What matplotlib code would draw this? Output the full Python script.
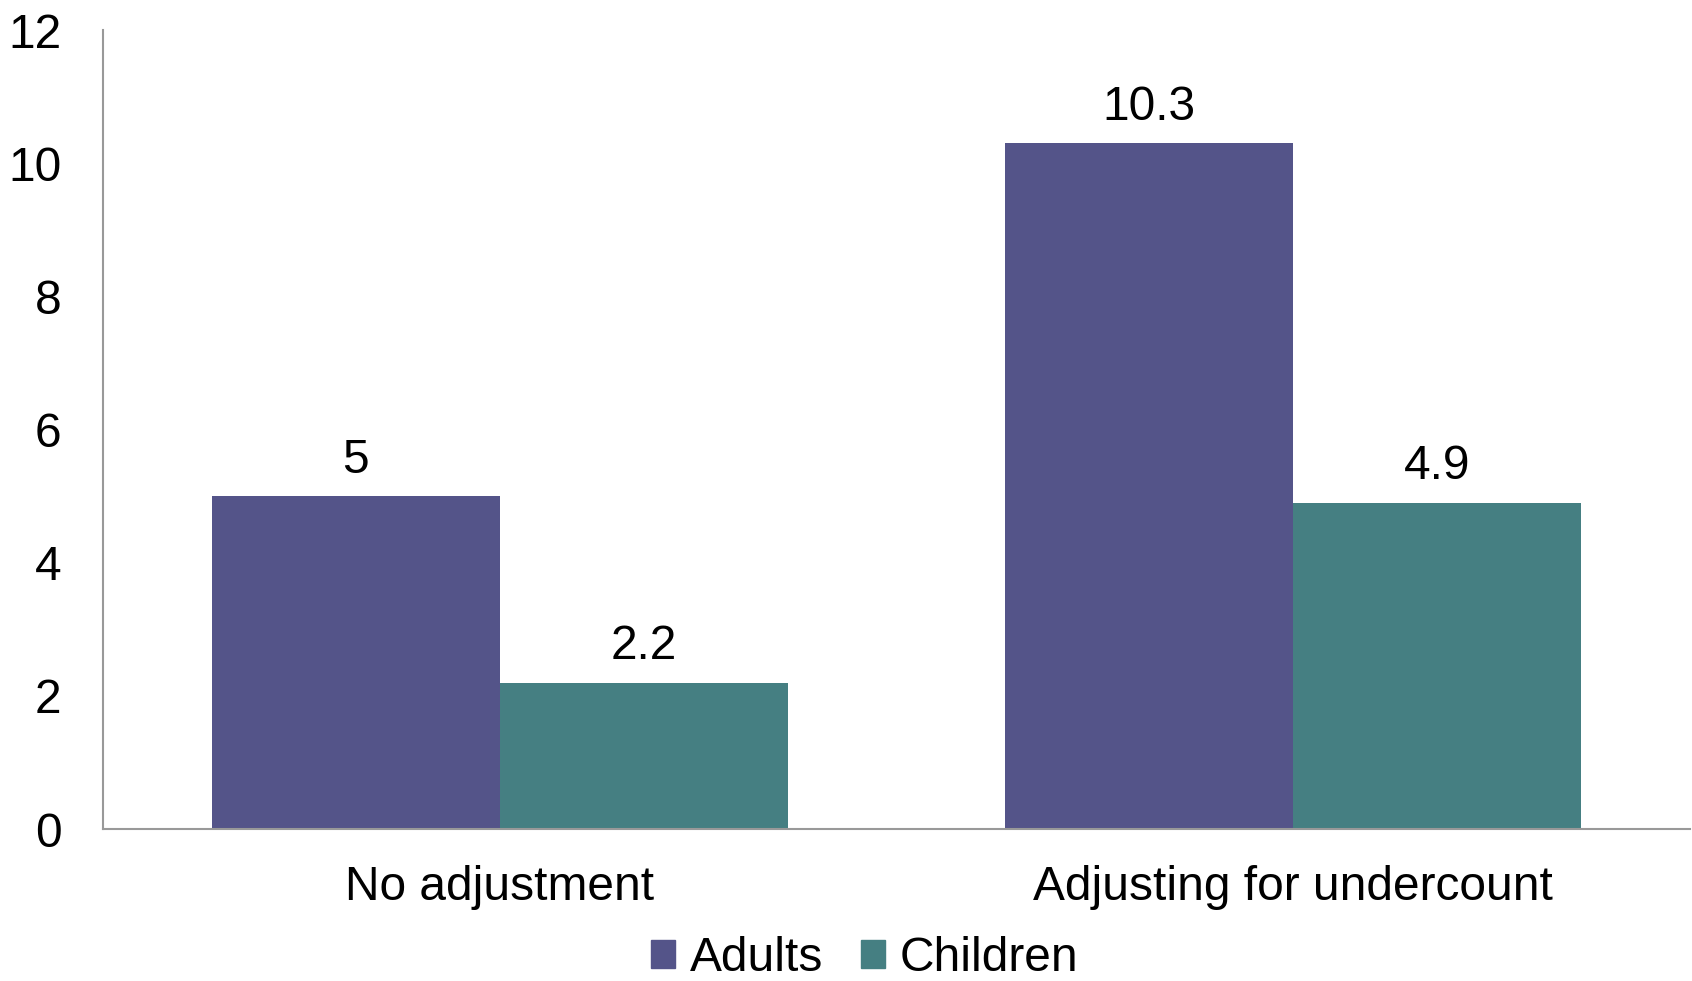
import numpy as np
import matplotlib
matplotlib.use("Agg")
import matplotlib.pyplot as plt
from matplotlib.patches import Patch

plt.rcParams['font.family'] = ['Liberation Sans', 'DejaVu Sans']

categories = ["No adjustment", "Adjusting for undercount"]
series_names = ["Adults", "Children"]
adults = [5, 10.3]
children = [2.2, 4.9]
value_labels = [["5", "10.3"], ["2.2", "4.9"]]
colors = ["#545489", "#457F82"]

fig = plt.figure(figsize=(16.92, 9.81), dpi=100)
ax = fig.add_axes([0.0609, 0.1549, 0.9379, 0.8145])

x = np.arange(len(categories))
width = 0.363
fs = 34.5

for i, (vals, name) in enumerate(zip([adults, children], series_names)):
    pos = x + (i - 0.5) * width
    ax.bar(pos, vals, width, color=colors[i], label=name)
    for p, v, lab in zip(pos, vals, value_labels[i]):
        ax.text(p, v + 0.2, lab, ha="center", va="bottom", fontsize=fs)

ax.set_xlim(-0.5, 1.5)
ax.set_ylim(0, 12)
ax.set_yticks(range(0, 13, 2))
ax.set_xticks(x)
ax.set_xticklabels(categories)
ax.tick_params(axis="both", length=0, labelsize=fs)
ax.tick_params(axis="y", pad=30)
ax.tick_params(axis="x", pad=26)

for s in ["top", "right"]:
    ax.spines[s].set_visible(False)
for s in ["left", "bottom"]:
    ax.spines[s].set_color("#999999")
    ax.spines[s].set_linewidth(1.5)

handles = [Patch(color=c, label=n) for c, n in zip(colors, series_names)]
fig.legend(handles=handles, loc="lower center", bbox_to_anchor=(0.511, -0.044),
           ncol=2, frameon=False, fontsize=fs, handlelength=0.5,
           handleheight=0.5, handletextpad=0.3, columnspacing=0.8)

fig.savefig("out.png", dpi=100)
